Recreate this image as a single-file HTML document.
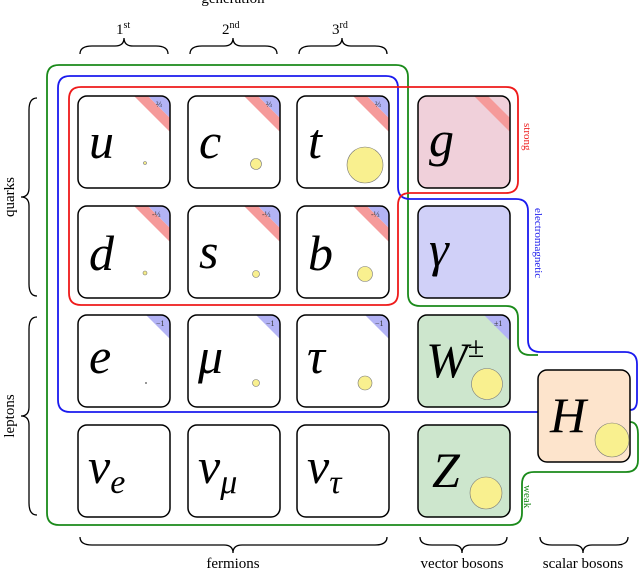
<!DOCTYPE html>
<html><head><meta charset="utf-8"><style>
html,body{margin:0;padding:0;background:#fff;width:640px;height:570px;overflow:hidden}
svg{display:block}
.l{font-family:"Liberation Serif",serif;font-style:italic;font-size:50px;fill:#000}
.t{font-family:"Liberation Serif",serif;font-size:15px;fill:#000}
.c{font-family:"Liberation Serif",serif;font-size:8px;fill:#333}
</style></head><body>
<svg width="640" height="570" viewBox="0 0 640 570" xmlns="http://www.w3.org/2000/svg">
<defs>
<clipPath id="bx"><rect x="0" y="0" width="92" height="92" rx="9"/></clipPath>
<g id="q"><polygon points="56,0 70,0 92,22 92,36" fill="#f59a9a"/><polygon points="70,0 92,0 92,22" fill="#b3b3f5"/></g>
<g id="lp"><polygon points="68,0 92,0 92,24" fill="#b3b3f5"/></g>
</defs>
<text class="t" x="233" y="3" text-anchor="middle">generation</text>
<text class="t" x="116" y="34">1<tspan font-size="10" dy="-6">st</tspan></text>
<text class="t" x="222" y="34">2<tspan font-size="10" dy="-6">nd</tspan></text>
<text class="t" x="332" y="34">3<tspan font-size="10" dy="-6">rd</tspan></text>
<g fill="none" stroke="#000" stroke-width="1.3">
<path d="M80,54 Q80,46 92,46 L115,46 Q124,46 124,38 Q124,46 133,46 L156,46 Q168,46 168,54"/>
<path d="M190,54 Q190,46 202,46 L224,46 Q233,46 233,38 Q233,46 242,46 L265,46 Q277,46 277,54"/>
<path d="M299,54 Q299,46 311,46 L333,46 Q342,46 342,38 Q342,46 351,46 L375,46 Q387,46 387,54"/>
<path d="M37,98 Q29,98 29,110 L29,188 Q29,197 21,197 Q29,197 29,206 L29,284 Q29,296 37,296"/>
<path d="M37,317 Q29,317 29,329 L29,407 Q29,416 21,416 Q29,416 29,425 L29,503 Q29,515 37,515"/>
<path d="M80,537 Q80,545 92,545 L224,545 Q233,545 233,553 Q233,545 242,545 L375,545 Q387,545 387,537"/>
<path d="M420,537 Q420,545 432,545 L453,545 Q462,545 462,553 Q462,545 471,545 L495,545 Q507,545 507,537"/>
<path d="M540,537 Q540,545 552,545 L574,545 Q583,545 583,553 Q583,545 592,545 L616,545 Q628,545 628,537"/>
</g>
<text class="t" transform="translate(14,197) rotate(-90)" text-anchor="middle">quarks</text>
<text class="t" transform="translate(14,416) rotate(-90)" text-anchor="middle">leptons</text>
<text class="t" x="233" y="568" text-anchor="middle">fermions</text>
<text class="t" x="462" y="568" text-anchor="middle">vector bosons</text>
<text class="t" x="583" y="568" text-anchor="middle">scalar bosons</text>
<g fill="none" stroke-width="1.8">
<path stroke="#1a8a1a" d="M630,422 Q638,422 638,434 L638,460 Q638,472 626,472 L534,472 Q522,472 522,484 L522,513 Q522,525 510,525 L59,525 Q47,525 47,513 L47,77 Q47,65 59,65 L396,65 Q408,65 408,77 L408,294 Q408,306 420,306 L506,306 Q518,306 518,318 L518,343 Q518,355 530,355 L538,355"/>
<path stroke="#1a1aee" d="M538,412 L70,412 Q58,412 58,400 L58,88 Q58,76 70,76 L386,76 Q398,76 398,88 L398,187 Q398,199 410,199 L516,199 Q528,199 528,211 L528,340 Q528,352 540,352 L625,352 Q637,352 637,364 L637,400 Q637,410 630,410"/>
<path stroke="#ee1a1a" d="M81,87 L506,87 Q518,87 518,99 L518,181 Q518,193 506,193 L410,193 Q398,193 398,205 L398,293 Q398,305 386,305 L81,305 Q69,305 69,293 L69,99 Q69,87 81,87 Z"/>
</g>
<text transform="translate(524,123) rotate(90)" font-family="Liberation Serif,serif" font-size="11" fill="#ee2222">strong</text>
<text transform="translate(535,208) rotate(90)" font-family="Liberation Serif,serif" font-size="11" fill="#2222ee">electromagnetic</text>
<text transform="translate(524,485) rotate(90)" font-family="Liberation Serif,serif" font-size="11" fill="#1a8a1a">weak</text>

<g transform="translate(78,96)"><g clip-path="url(#bx)"><rect width="92" height="92" fill="#fff"/><use href="#q"/></g><rect width="92" height="92" rx="9" fill="none" stroke="#000" stroke-width="1.5"/><text class="c" x="78" y="11">⅔</text><text class="l" x="11" y="62">u</text><circle cx="67" cy="67" r="1.5" fill="#f5ec88" stroke="#777" stroke-width=".6"/></g>
<g transform="translate(188,96)"><g clip-path="url(#bx)"><rect width="92" height="92" fill="#fff"/><use href="#q"/></g><rect width="92" height="92" rx="9" fill="none" stroke="#000" stroke-width="1.5"/><text class="c" x="78" y="11">⅔</text><text class="l" x="11" y="62">c</text><circle cx="68" cy="68" r="5.5" fill="#f9f08f" stroke="#777" stroke-width=".6"/></g>
<g transform="translate(297,96)"><g clip-path="url(#bx)"><rect width="92" height="92" fill="#fff"/><use href="#q"/></g><rect width="92" height="92" rx="9" fill="none" stroke="#000" stroke-width="1.5"/><text class="c" x="78" y="11">⅔</text><text class="l" x="11" y="62">t</text><circle cx="68" cy="69" r="18" fill="#f9f08f" stroke="#777" stroke-width=".6"/></g>
<g transform="translate(78,206)"><g clip-path="url(#bx)"><rect width="92" height="92" fill="#fff"/><use href="#q"/></g><rect width="92" height="92" rx="9" fill="none" stroke="#000" stroke-width="1.5"/><text class="c" x="74" y="11">-⅓</text><text class="l" x="11" y="64">d</text><circle cx="67" cy="67" r="2" fill="#f5ec88" stroke="#777" stroke-width=".6"/></g>
<g transform="translate(188,206)"><g clip-path="url(#bx)"><rect width="92" height="92" fill="#fff"/><use href="#q"/></g><rect width="92" height="92" rx="9" fill="none" stroke="#000" stroke-width="1.5"/><text class="c" x="74" y="11">-⅓</text><text class="l" x="11" y="62">s</text><circle cx="68" cy="68" r="3.5" fill="#f9f08f" stroke="#777" stroke-width=".6"/></g>
<g transform="translate(297,206)"><g clip-path="url(#bx)"><rect width="92" height="92" fill="#fff"/><use href="#q"/></g><rect width="92" height="92" rx="9" fill="none" stroke="#000" stroke-width="1.5"/><text class="c" x="74" y="11">-⅓</text><text class="l" x="11" y="64">b</text><circle cx="68" cy="68" r="7.5" fill="#f9f08f" stroke="#777" stroke-width=".6"/></g>
<g transform="translate(78,315)"><g clip-path="url(#bx)"><rect width="92" height="92" fill="#fff"/><use href="#lp"/></g><rect width="92" height="92" rx="9" fill="none" stroke="#000" stroke-width="1.5"/><text class="c" x="78" y="11">−1</text><text class="l" x="11" y="58">e</text><circle cx="68" cy="68" r="1" fill="#777"/></g>
<g transform="translate(188,315)"><g clip-path="url(#bx)"><rect width="92" height="92" fill="#fff"/><use href="#lp"/></g><rect width="92" height="92" rx="9" fill="none" stroke="#000" stroke-width="1.5"/><text class="c" x="78" y="11">−1</text><text class="l" x="10" y="58">μ</text><circle cx="68" cy="68" r="3.5" fill="#f9f08f" stroke="#777" stroke-width=".6"/></g>
<g transform="translate(297,315)"><g clip-path="url(#bx)"><rect width="92" height="92" fill="#fff"/><use href="#lp"/></g><rect width="92" height="92" rx="9" fill="none" stroke="#000" stroke-width="1.5"/><text class="c" x="78" y="11">−1</text><text class="l" x="10" y="58">τ</text><circle cx="68" cy="68" r="7" fill="#f9f08f" stroke="#777" stroke-width=".6"/></g>
<g transform="translate(78,425)"><rect width="92" height="92" rx="9" fill="#fff" stroke="#000" stroke-width="1.5"/><text class="l" x="10" y="58">ν<tspan font-size="34" dy="10">e</tspan></text></g>
<g transform="translate(188,425)"><rect width="92" height="92" rx="9" fill="#fff" stroke="#000" stroke-width="1.5"/><text class="l" x="10" y="58">ν<tspan font-size="34" dy="10">μ</tspan></text></g>
<g transform="translate(297,425)"><rect width="92" height="92" rx="9" fill="#fff" stroke="#000" stroke-width="1.5"/><text class="l" x="10" y="58">ν<tspan font-size="34" dy="10">τ</tspan></text></g>
<g transform="translate(418,96)"><g clip-path="url(#bx)"><rect width="92" height="92" fill="#f0d0da"/><polygon points="56,0 70,0 92,22 92,36" fill="#f59a9a"/></g><rect width="92" height="92" rx="9" fill="none" stroke="#000" stroke-width="1.5"/><text class="l" x="11" y="60">g</text></g>
<g transform="translate(418,206)"><rect width="92" height="92" rx="9" fill="#d0d0f8" stroke="#000" stroke-width="1.5"/><text class="l" x="11" y="60">γ</text></g>
<g transform="translate(418,315)"><g clip-path="url(#bx)"><rect width="92" height="92" fill="#cde6cd"/><polygon points="66,0 92,0 92,26" fill="#b3b3f5"/></g><rect width="92" height="92" rx="9" fill="none" stroke="#000" stroke-width="1.5"/><text class="c" x="76" y="11">±1</text><text class="l" x="8" y="62">W<tspan font-size="30" dy="-20">±</tspan></text><circle cx="69" cy="69" r="15.5" fill="#f9f08f" stroke="#777" stroke-width=".6"/></g>
<g transform="translate(418,425)"><rect width="92" height="92" rx="9" fill="#cde6cd" stroke="#000" stroke-width="1.5"/><text class="l" x="14" y="62">Z</text><circle cx="68" cy="68" r="16" fill="#f9f08f" stroke="#777" stroke-width=".6"/></g>
<g transform="translate(538,370)"><rect width="92" height="92" rx="9" fill="#fde4cc" stroke="#000" stroke-width="1.5"/><text class="l" x="12" y="62">H</text><circle cx="74" cy="70" r="17" fill="#f9f08f" stroke="#777" stroke-width=".6"/></g>
</svg>
</body></html>
